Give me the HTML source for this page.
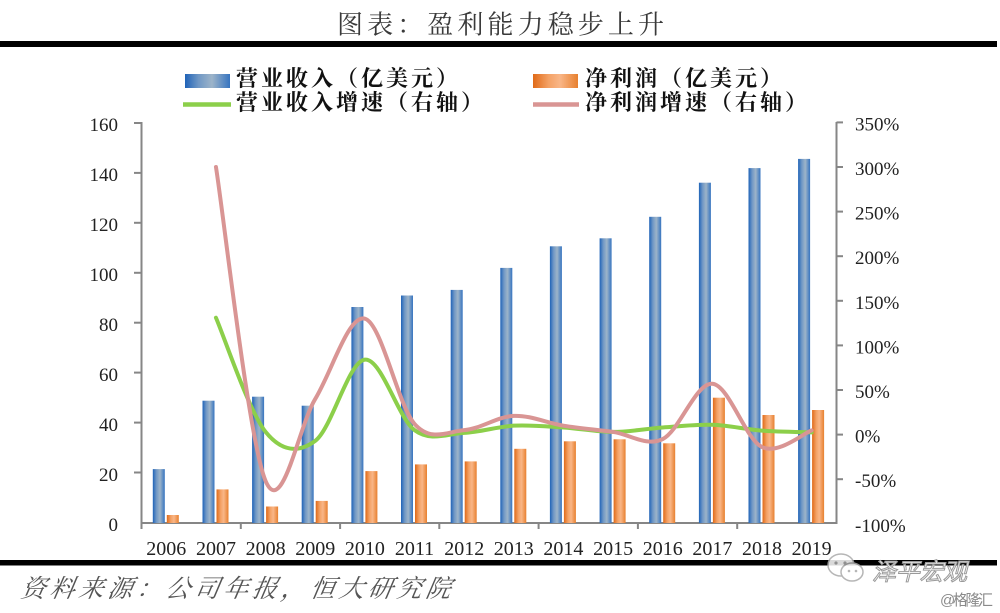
<!DOCTYPE html>
<html>
<head>
<meta charset="utf-8">
<style>
html,body{margin:0;padding:0;background:#fff;}
svg{display:block;}
</style>
</head>
<body>
<svg width="1000" height="613" viewBox="0 0 1000 613" xmlns="http://www.w3.org/2000/svg">
<defs>
<linearGradient id="gb" x1="0" y1="0" x2="1" y2="0">
<stop offset="0" stop-color="#1f63b8"/>
<stop offset="0.3" stop-color="#6f97c5"/>
<stop offset="0.6" stop-color="#9db4c9"/>
<stop offset="1" stop-color="#3674c0"/>
</linearGradient>
<linearGradient id="go" x1="0" y1="0" x2="1" y2="0">
<stop offset="0" stop-color="#e06a18"/>
<stop offset="0.35" stop-color="#f4a266"/>
<stop offset="0.6" stop-color="#f9b687"/>
<stop offset="1" stop-color="#e7802f"/>
</linearGradient>
</defs>

<rect width="1000" height="613" fill="#fff"/>

<!-- Title -->
<text x="337" y="33.5" font-family="'Liberation Serif','Noto Serif CJK SC',serif" font-size="26" fill="#3a3a3a" textLength="327" lengthAdjust="spacing">图表：盈利能力稳步上升</text>
<rect x="0" y="41" width="997" height="6" fill="#000"/>

<!-- Legend -->
<rect x="185" y="74" width="45" height="14" fill="url(#gb)"/>
<text x="236" y="86" font-family="'Liberation Serif','Noto Serif CJK SC',serif" font-weight="bold" font-size="22" fill="#111" textLength="222" lengthAdjust="spacing">营业收入（亿美元）</text>
<rect x="533" y="74" width="45" height="14" fill="url(#go)"/>
<text x="585" y="86" font-family="'Liberation Serif','Noto Serif CJK SC',serif" font-weight="bold" font-size="22" fill="#111" textLength="197" lengthAdjust="spacing">净利润（亿美元）</text>
<line x1="183" y1="104.5" x2="231" y2="104.5" stroke="#8ccf4a" stroke-width="4.5"/>
<text x="236" y="110" font-family="'Liberation Serif','Noto Serif CJK SC',serif" font-weight="bold" font-size="22" fill="#111" textLength="247" lengthAdjust="spacing">营业收入增速（右轴）</text>
<line x1="533" y1="104.5" x2="579" y2="104.5" stroke="#d99594" stroke-width="4.5"/>
<text x="585" y="110" font-family="'Liberation Serif','Noto Serif CJK SC',serif" font-weight="bold" font-size="22" fill="#111" textLength="222" lengthAdjust="spacing">净利润增速（右轴）</text>

<!-- Axes -->
<g stroke="#868686" stroke-width="2" fill="none">
<line x1="141.5" y1="122" x2="141.5" y2="524"/>
<line x1="836.5" y1="122" x2="836.5" y2="524"/>
<line x1="140.5" y1="523" x2="837.5" y2="523"/>
<!-- left ticks -->
<line x1="134" y1="123" x2="141.5" y2="123"/>
<line x1="134" y1="172.9" x2="141.5" y2="172.9"/>
<line x1="134" y1="222.8" x2="141.5" y2="222.8"/>
<line x1="134" y1="272.8" x2="141.5" y2="272.8"/>
<line x1="134" y1="322.7" x2="141.5" y2="322.7"/>
<line x1="134" y1="372.6" x2="141.5" y2="372.6"/>
<line x1="134" y1="422.6" x2="141.5" y2="422.6"/>
<line x1="134" y1="472.5" x2="141.5" y2="472.5"/>
<!-- right ticks -->
<line x1="836.5" y1="122.4" x2="843" y2="122.4"/>
<line x1="836.5" y1="167" x2="843" y2="167"/>
<line x1="836.5" y1="211.6" x2="843" y2="211.6"/>
<line x1="836.5" y1="256.2" x2="843" y2="256.2"/>
<line x1="836.5" y1="300.8" x2="843" y2="300.8"/>
<line x1="836.5" y1="345.4" x2="843" y2="345.4"/>
<line x1="836.5" y1="390" x2="843" y2="390"/>
<line x1="836.5" y1="434.6" x2="843" y2="434.6"/>
<line x1="836.5" y1="479.2" x2="843" y2="479.2"/>
<!-- bottom ticks -->
<line x1="141.5" y1="523" x2="141.5" y2="529"/>
<line x1="240.8" y1="523" x2="240.8" y2="529"/>
<line x1="340.1" y1="523" x2="340.1" y2="529"/>
<line x1="439.3" y1="523" x2="439.3" y2="529"/>
<line x1="538.6" y1="523" x2="538.6" y2="529"/>
<line x1="637.9" y1="523" x2="637.9" y2="529"/>
<line x1="737.2" y1="523" x2="737.2" y2="529"/>
</g>

<!-- Left axis labels -->
<g font-family="'Liberation Serif',serif" font-size="19" fill="#222" text-anchor="end">
<text x="118" y="131">160</text>
<text x="118" y="181">140</text>
<text x="118" y="231">120</text>
<text x="118" y="281">100</text>
<text x="118" y="331">80</text>
<text x="118" y="381">60</text>
<text x="118" y="431">40</text>
<text x="118" y="481">20</text>
<text x="118" y="531">0</text>
</g>
<!-- Right axis labels -->
<g font-family="'Liberation Serif',serif" font-size="19" fill="#222">
<text x="855" y="130.5">350%</text>
<text x="855" y="175">300%</text>
<text x="855" y="219.6">250%</text>
<text x="855" y="264.2">200%</text>
<text x="855" y="308.8">150%</text>
<text x="855" y="353.4">100%</text>
<text x="855" y="398">50%</text>
<text x="855" y="442.6">0%</text>
<text x="855" y="487.2">-50%</text>
<text x="855" y="531.8">-100%</text>
</g>
<!-- X labels -->
<g font-family="'Liberation Serif',serif" font-size="20" fill="#222" text-anchor="middle">
<text x="166.3" y="555">2006</text>
<text x="216" y="555">2007</text>
<text x="265.6" y="555">2008</text>
<text x="315.2" y="555">2009</text>
<text x="364.9" y="555">2010</text>
<text x="414.5" y="555">2011</text>
<text x="464.2" y="555">2012</text>
<text x="513.8" y="555">2013</text>
<text x="563.4" y="555">2014</text>
<text x="613.1" y="555">2015</text>
<text x="662.7" y="555">2016</text>
<text x="712.4" y="555">2017</text>
<text x="762" y="555">2018</text>
<text x="811.6" y="555">2019</text>
</g>

<!-- Blue bars -->
<g fill="url(#gb)">
<rect x="152.8" y="469.1" width="12" height="53.9"/>
<rect x="202.5" y="400.7" width="12" height="122.3"/>
<rect x="252.1" y="396.7" width="12" height="126.3"/>
<rect x="301.7" y="405.7" width="12" height="117.3"/>
<rect x="351.4" y="307.0" width="12" height="216.0"/>
<rect x="401.0" y="295.5" width="12" height="227.5"/>
<rect x="450.7" y="289.9" width="12" height="233.1"/>
<rect x="500.3" y="267.9" width="12" height="255.1"/>
<rect x="549.9" y="246.3" width="12" height="276.7"/>
<rect x="599.6" y="238.3" width="12" height="284.7"/>
<rect x="649.2" y="216.8" width="12" height="306.2"/>
<rect x="698.9" y="182.7" width="12" height="340.3"/>
<rect x="748.5" y="168.1" width="12" height="354.9"/>
<rect x="798.1" y="158.9" width="12" height="364.1"/>
</g>
<!-- Orange bars -->
<g fill="url(#go)">
<rect x="166.8" y="515.0" width="12" height="8.0"/>
<rect x="216.5" y="489.4" width="12" height="33.6"/>
<rect x="266.1" y="506.5" width="12" height="16.5"/>
<rect x="315.7" y="500.9" width="12" height="22.1"/>
<rect x="365.4" y="471.1" width="12" height="51.9"/>
<rect x="415.0" y="464.4" width="12" height="58.6"/>
<rect x="464.7" y="461.4" width="12" height="61.6"/>
<rect x="514.3" y="448.8" width="12" height="74.2"/>
<rect x="563.9" y="441.3" width="12" height="81.7"/>
<rect x="613.6" y="439.3" width="12" height="83.7"/>
<rect x="663.2" y="443.3" width="12" height="79.7"/>
<rect x="712.9" y="397.7" width="12" height="125.3"/>
<rect x="762.5" y="415.0" width="12" height="108.0"/>
<rect x="812.1" y="410.0" width="12" height="113.0"/>
</g>

<!-- Green line -->
<path fill="none" stroke="#8ccf4a" stroke-width="4" stroke-linecap="round" stroke-linejoin="round"
d="M215.96,317.75 C224.23,336.78 249.05,411.40 265.60,431.92 C282.15,452.44 298.69,452.88 315.24,440.84 C331.79,428.80 348.33,361.45 364.88,359.67 C381.43,357.89 397.97,417.95 414.52,430.14 C431.07,442.33 447.61,433.56 464.16,432.82 C480.71,432.08 497.25,426.57 513.80,425.68 C530.35,424.79 546.89,426.42 563.44,427.46 C579.99,428.50 596.53,431.92 613.08,431.92 C629.63,431.92 646.17,428.65 662.72,427.46 C679.27,426.27 695.81,424.25 712.36,424.79 C728.91,425.33 745.45,429.42 762.00,430.68 C778.55,431.94 803.37,432.09 811.64,432.37"/>
<!-- Pink line -->
<path fill="none" stroke="#d99594" stroke-width="4" stroke-linecap="round" stroke-linejoin="round"
d="M215.96,167.00 C224.23,219.33 249.05,442.33 265.60,480.98 C282.15,519.63 298.69,425.98 315.24,398.92 C331.79,371.86 348.33,314.48 364.88,318.64 C381.43,322.80 397.97,405.32 414.52,423.90 C431.07,442.48 447.61,431.48 464.16,430.14 C480.71,428.80 497.25,416.61 513.80,415.87 C530.35,415.13 546.89,423.00 563.44,425.68 C579.99,428.36 596.53,429.69 613.08,431.92 C629.63,434.15 646.17,447.09 662.72,439.06 C679.27,431.03 695.81,382.42 712.36,383.76 C728.91,385.10 745.45,439.31 762.00,447.09 C778.55,454.87 803.37,433.19 811.64,430.41"/>

<!-- Bottom rule -->
<rect x="0" y="560" width="997" height="5.5" fill="#000"/>

<!-- Source -->
<text x="20" y="597" font-family="'Liberation Serif','Noto Serif CJK SC',serif" font-style="italic" font-size="25" fill="#555" textLength="430" lengthAdjust="spacing" transform="skewX(-10) translate(105,0)">资料来源：公司年报，恒大研究院</text>

<!-- Watermark -->
<g opacity="0.85">
<ellipse cx="841" cy="565" rx="13" ry="11" fill="#fff" stroke="#aaa" stroke-width="1.5"/>
<ellipse cx="852" cy="572" rx="11" ry="9" fill="#fff" stroke="#aaa" stroke-width="1.5"/>
<circle cx="836" cy="563" r="1.6" fill="#aaa"/>
<circle cx="845" cy="563" r="1.6" fill="#aaa"/>
<circle cx="849" cy="571" r="1.3" fill="#aaa"/>
<circle cx="856" cy="571" r="1.3" fill="#aaa"/>
</g>
<text x="872" y="580" font-family="'Liberation Sans','Noto Sans CJK SC',sans-serif" font-style="italic" font-size="24" fill="#fff" fill-opacity="0.9" stroke="#9a9a9a" stroke-width="1" textLength="95" lengthAdjust="spacing">泽平宏观</text>
<text x="940" y="605" font-family="'Liberation Sans','Noto Sans CJK SC',sans-serif" font-size="15" fill="#8a8a8a" textLength="53" lengthAdjust="spacing">@格隆汇</text>
</svg>
</body>
</html>
